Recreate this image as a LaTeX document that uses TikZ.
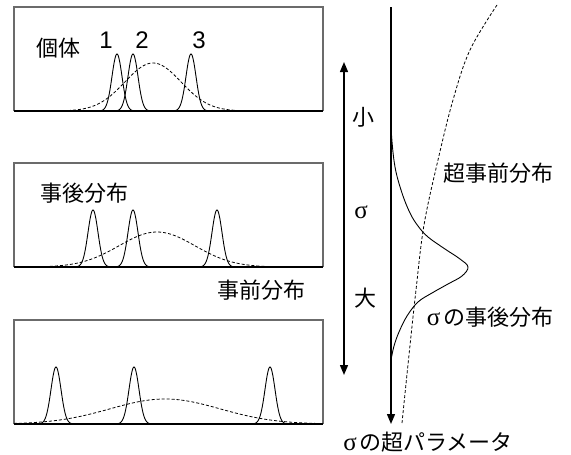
\documentclass[tikz,border=0pt]{standalone}
\usepackage{fontspec}
\setmainfont{Liberation Sans}
\newfontfamily\jp{Noto Sans CJK JP}
\newfontfamily\gr{Liberation Serif}
\usetikzlibrary{arrows.meta}
\newcommand{\sig}{{\gr\fontsize{25pt}{28pt}\selectfont σ}}
\tikzset{
  frame/.style={draw=black!58, line width=1.2pt},
  baseln/.style={draw=black, line width=1.2pt},
  peak/.style={draw=black, line width=0.9pt},
  prior/.style={draw=black, line width=0.8pt, dash pattern=on 3pt off 2pt},
  axisln/.style={draw=black, line width=1.4pt},
  lbl/.style={inner sep=0pt, font=\fontsize{22pt}{26pt}\selectfont},
  digit/.style={inner sep=0pt, font=\fontsize{24pt}{28pt}\selectfont},
}
\begin{document}
\begin{tikzpicture}[x=1pt, y=-1pt]
\useasboundingbox (0,0) rectangle (571,455);
\fill[white] (0,0) rectangle (571,455);

% box 1
\draw[frame] (14,111) -- (14,7) -- (323,7) -- (323,111);
\draw[baseln] (14,111) -- (323,111);
\foreach \c in {117,133,191}
  \draw[peak] plot[variable=\t, domain=-18:18, samples=50, smooth] ({\c+\t},{111-57*exp(-0.5*(\t/5)^2)});
\draw[prior] plot[variable=\t, domain=-85:85, samples=80, smooth] ({153+\t},{111-48*exp(-0.5*(\t/28)^2)});

% box 2
\draw[frame] (14,267) -- (14,163) -- (323,163) -- (323,267);
\draw[baseln] (14,267) -- (323,267);
\foreach \c in {93,133,217}
  \draw[peak] plot[variable=\t, domain=-18:18, samples=50, smooth] ({\c+\t},{267-57*exp(-0.5*(\t/5)^2)});
\draw[prior] plot[variable=\t, domain=-112:112, samples=90, smooth] ({157+\t},{267-35*exp(-0.5*(\t/38)^2)});

% box 3
\draw[frame] (14,424) -- (14,320) -- (323,320) -- (323,424);
\draw[baseln] (14,424) -- (323,424);
\foreach \c in {56,134,270}
  \draw[peak] plot[variable=\t, domain=-18:18, samples=50, smooth] ({\c+\t},{424-57*exp(-0.5*(\t/5)^2)});
\draw[prior] plot[variable=\t, domain=-151:158, samples=100, smooth] ({165+\t},{424-25*exp(-0.5*(\t/55)^2)});

% labels in boxes
\node[lbl] (kotai) at (58,48) {\jp 個体};
\node[digit] (n1) at (106,40) {1};
\node[digit] (n2) at (142,40) {2};
\node[digit] (n3) at (199,40) {3};
\node[lbl] (jigo) at (85,193) {\jp 事後分布};
\node[lbl] (jizen) at (261,290) {\jp 事前分布};

% sigma double arrow
\coordinate (sgtop) at (344,62);
\coordinate (sgbot) at (344,375);
\draw[axisln, {Triangle[width=8pt,length=10pt]}-{Triangle[width=8pt,length=10pt]}] (sgtop) -- (sgbot);
\node[lbl] (sho) at (363,117) {\jp 小};
\node[lbl] (sg) at (361,212) {\sig};
\node[lbl] (dai) at (365,298) {\jp 大};

% main axis
\coordinate (axtop) at (391,7);
\coordinate (axbot) at (391,424);
\draw[axisln, -{Triangle[width=8pt,length=10pt]}] (axtop) -- (axbot);

% hyperprior (dashed)
\draw[prior] plot[smooth, tension=0.6] coordinates {(497,5) (470,50) (453,100) (438,160) (424,225) (416,290) (409,355) (402,423)};

% posterior of sigma
\draw[peak] plot[smooth, tension=0.6] coordinates {(391,112) (391.5,135) (395,167) (402,193) (410,213) (418,226) (428,237) (445,249) (460,259) (468,267) (462,276) (448,284) (432,293) (418,302) (407,316) (399,332) (394,346) (391,360)};

\node[lbl] (chojizen) at (498,173) {\jp 超事前分布};
\node[lbl] (sgjigo) at (490,317) {\sig\hspace{0.12em}\jp の事後分布};
\node[lbl] (sghyper) at (428,442) {\sig\hspace{0.12em}\jp の超パラメータ};
\end{tikzpicture}
\end{document}
